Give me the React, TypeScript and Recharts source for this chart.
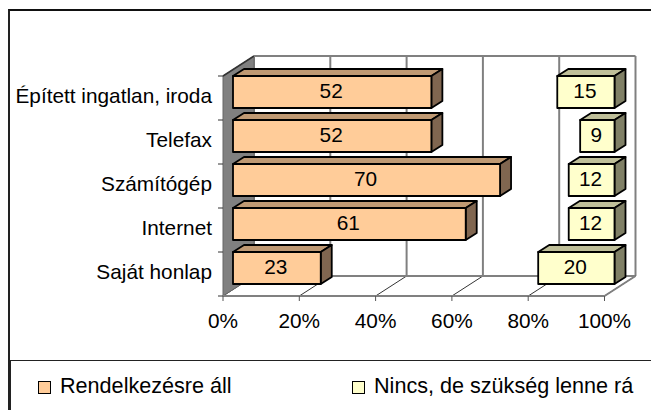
import React from 'react';
import { BarChart, Bar, XAxis, YAxis, CartesianGrid, ReferenceArea, LabelList, Legend } from 'recharts';

const categories = ['Épített ingatlan, iroda', 'Telefax', 'Számítógép', 'Internet', 'Saját honlap'];
const available = [52, 52, 70, 61, 23];
const notNeeded = [33, 39, 18, 27, 57];
const wanted = [15, 9, 12, 12, 20];
const xTicks = [0, 20, 40, 60, 80, 100];

const seriesNames = ['Rendelkezésre áll', 'Nem kell', 'Nincs, de szükség lenne rá'];

const data = categories.map((name, i) => ({
  name,
  available: available[i],
  notNeeded: notNeeded[i],
  wanted: wanted[i],
}));

const FONT = '"Liberation Sans", Arial, sans-serif';
const TEXT_SIZE = 20.8;

// depth of the 3D box the plot sits in, and where the bars sit inside it
const DEPTH_X = 31;
const DEPTH_Y = -20;
const BAR_SHIFT_X = 10;
const BAR_SHIFT_Y = -6;
const BAR_DEPTH_X = 11;
const BAR_DEPTH_Y = -7;

const Box3D = ({ x, y, width, height, front, top, side }: any) => {
  const l = x + BAR_SHIFT_X;
  const t = y + BAR_SHIFT_Y;
  const r = l + width;
  const b = t + height;
  const dx = BAR_DEPTH_X;
  const dy = BAR_DEPTH_Y;
  return (
    <g stroke="#000" strokeWidth={1.8} strokeLinejoin="round">
      <polygon points={`${l},${t} ${l + dx},${t + dy} ${r + dx},${t + dy} ${r},${t}`} fill={top} />
      <polygon points={`${r},${t} ${r + dx},${t + dy} ${r + dx},${b + dy} ${r},${b}`} fill={side} />
      <rect x={l} y={t} width={width} height={height} fill={front} />
    </g>
  );
};

const OrangeBar = (props: any) => <Box3D {...props} front="#FFCC99" top="#BF9973" side="#806650" />;
const YellowBar = (props: any) => <Box3D {...props} front="#FFFFCC" top="#BFBF99" side="#808066" />;

const BarValue = ({ x, y, width, height, value }: any) => (
  <text
    x={x + BAR_SHIFT_X + width / 2 - 1}
    y={y + BAR_SHIFT_Y + height / 2 + 6}
    textAnchor="middle"
    fontFamily={FONT}
    fontSize={TEXT_SIZE}
    fill="#000"
  >
    {value}
  </text>
);

// one back wall line plus its diagonal across the floor
const GridLine = ({ x1, y1, y2 }: any) => (
  <g>
    <line x1={x1 + DEPTH_X} y1={y1 + DEPTH_Y} x2={x1 + DEPTH_X} y2={y2 + DEPTH_Y} stroke="#808080" strokeWidth={2} />
    <line x1={x1} y1={y2} x2={x1 + DEPTH_X} y2={y2 + DEPTH_Y} stroke="#000" strokeWidth={0.8} />
  </g>
);

const Walls = ({ x, y, width, height }: any) => {
  const b = y + height;
  return (
    <g>
      <polygon
        points={`${x},${y} ${x + DEPTH_X},${y + DEPTH_Y} ${x + DEPTH_X},${b + DEPTH_Y} ${x},${b}`}
        fill="#808080"
        stroke="#666"
        strokeWidth={1}
      />
      <line x1={x} y1={y} x2={x + DEPTH_X} y2={y + DEPTH_Y} stroke="#333" strokeWidth={1.5} />
      <line x1={x + DEPTH_X} y1={y + DEPTH_Y} x2={x + width + DEPTH_X} y2={y + DEPTH_Y} stroke="#808080" strokeWidth={2} />
      <line x1={x + DEPTH_X} y1={b + DEPTH_Y} x2={x + width + DEPTH_X} y2={b + DEPTH_Y} stroke="#808080" strokeWidth={2} />
      <line x1={x + width} y1={b} x2={x + width + DEPTH_X} y2={b + DEPTH_Y} stroke="#808080" strokeWidth={2} />
      <line x1={x} y1={b} x2={x + width} y2={b} stroke="#808080" strokeWidth={2} />
    </g>
  );
};

const CategoryTick = ({ x, y, payload, index }: any) => (
  <g>
    <line x1={x + 3} y1={y - 22} x2={x + 8} y2={y - 22} stroke="#333" strokeWidth={1} />
    {index === categories.length - 1 && <line x1={x + 3} y1={y + 22} x2={x + 8} y2={y + 22} stroke="#333" strokeWidth={1} />}
    <text x={x - 3} y={y + 5} textAnchor="end" fontFamily={FONT} fontSize={TEXT_SIZE} fill="#000">
      {payload.value}
    </text>
  </g>
);

const PercentTick = ({ x, y, payload }: any) => (
  <g>
    <line x1={x} y1={y - 8} x2={x} y2={y - 3} stroke="#555" strokeWidth={1} />
    <text x={x} y={y + 24} textAnchor="middle" fontFamily={FONT} fontSize={TEXT_SIZE} fill="#000">
      {`${payload.value}%`}
    </text>
  </g>
);

const legendLeft = [38, 352];

const LegendRow = ({ payload }: any) => (
  <div style={{ position: 'relative', height: 30, fontFamily: FONT, fontSize: 21.6, color: '#000' }}>
    {(payload || [])
      .filter((entry: any) => entry.type !== 'none')
      .map((entry: any, i: number) => (
        <div key={entry.value} style={{ position: 'absolute', left: legendLeft[i], top: 0, whiteSpace: 'nowrap' }}>
          <span
            style={{
              position: 'absolute',
              left: 0,
              top: 9,
              width: 11,
              height: 11,
              background: entry.color,
              border: '1.5px solid #000',
            }}
          />
          <span style={{ position: 'absolute', left: 22, top: 2, lineHeight: '24px' }}>{entry.value}</span>
        </div>
      ))}
  </div>
);

export default function App() {
  return (
    <div style={{ position: 'absolute', left: 0, top: 0, width: 651, height: 410, overflow: 'hidden', background: '#fff' }}>
      <div style={{ position: 'absolute', left: 8, top: 9, width: 660, height: 420, borderTop: '2px solid #111', borderLeft: '2px solid #222' }} />
      <div style={{ position: 'absolute', left: 10, top: 360, width: 660, height: 60, borderTop: '1px solid #222', borderLeft: '1px solid #222' }} />
      <div style={{ position: 'absolute', left: 0, top: 0 }}>
        <BarChart
          width={651}
          height={410}
          data={data}
          layout="vertical"
          margin={{ top: 76, right: 46.5, bottom: 54, left: 0 }}
          barSize={32}
          style={{ background: 'transparent' }}
        >
          <CartesianGrid horizontal={false} vertical={(props: any) => <GridLine key={props.index} {...props} />} />
          <ReferenceArea x1={0} x2={100} shape={Walls} ifOverflow="visible" />
          <XAxis
            type="number"
            domain={[0, 100]}
            ticks={xTicks}
            height={30}
            axisLine={false}
            tickLine={false}
            tick={PercentTick}
            interval={0}
          />
          <YAxis type="category" dataKey="name" width={223} axisLine={false} tickLine={false} tick={CategoryTick} interval={0} />
          <Legend
            content={LegendRow}
            itemSorter={null}
            wrapperStyle={{ position: 'absolute', left: 0, top: 372, width: 651 }}
          />
          <Bar dataKey="available" name={seriesNames[0]} stackId="a" fill="#FFCC99" shape={OrangeBar} isAnimationActive={false}>
            <LabelList dataKey="available" content={BarValue} />
          </Bar>
          <Bar dataKey="notNeeded" name={seriesNames[1]} stackId="a" fill="none" legendType="none" isAnimationActive={false} />
          <Bar dataKey="wanted" name={seriesNames[2]} stackId="a" fill="#FFFFCC" shape={YellowBar} isAnimationActive={false}>
            <LabelList dataKey="wanted" content={BarValue} />
          </Bar>
        </BarChart>
      </div>
    </div>
  );
}
